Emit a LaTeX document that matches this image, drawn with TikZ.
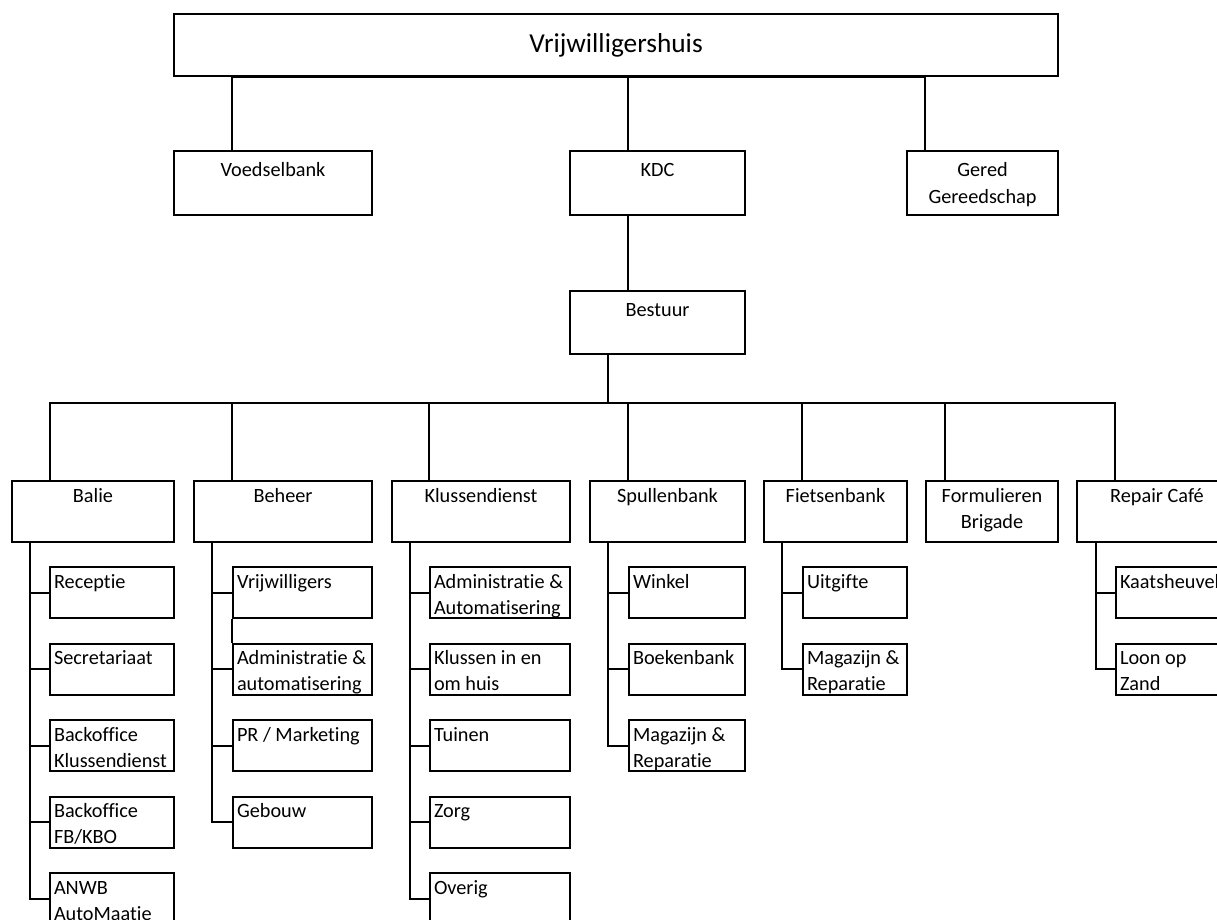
\documentclass[tikz,border=0pt]{standalone}
\usepackage{fontspec}
\setmainfont{Carlito}[Ligatures=NoCommon]

\newdimen\pxu \pxu=0.75pt
% text at the top of a box: width, height, first baseline, text
\newcommand{\ctrtext}[4]{\parbox[t][#2\pxu][t]{#1\pxu}{\centering\rule{0pt}{#3\pxu}#4}}
\newcommand{\lfttext}[2]{\parbox[t][51\pxu][t]{#1\pxu}{\raggedright\leftskip=4\pxu\rule{0pt}{21\pxu}#2}}

\tikzset{
    unit/.style={draw, line width=1.5pt, inner sep=0pt, anchor=north west},
    link/.style={line width=1.5pt},
}

\begin{document}
\begin{tikzpicture}[x=0.75pt, y=-0.75pt, font=\fontsize{15.2pt}{19.8pt}\selectfont]
    \useasboundingbox (0,0) rectangle (1217,920);

    \node[unit, minimum width=884\pxu, minimum height=62\pxu,
          font=\fontsize{20.5pt}{24pt}\selectfont] (vh) at (173,13) {Vrijwilligershuis};

        \node[unit] (vb)    at (173,150) {\ctrtext{198}{64}{25}{Voedselbank}};
        \node[unit] (kdc)   at (569,150) {\ctrtext{175}{64}{25}{KDC}};
        \node[unit] (gered) at (906,150) {\ctrtext{151}{64}{26}{Gered\\Gereedschap}};

        \draw[link] ([xshift=59\pxu]vb.north west)    |- (vh.south);
        \draw[link] ([xshift=59\pxu]kdc.north west)   |- (vh.south);
        \draw[link] ([xshift=19\pxu]gered.north west) |- (vh.south);

        \node[unit] (bestuur) at (569,290) {\ctrtext{175}{63}{25}{Bestuur}};
        \draw[link] ([xshift=59\pxu]kdc.south west) -- ([xshift=59\pxu]bestuur.north west);

    % afdelingen
    \coordinate (bus) at (608,403);
    \draw[link] ([xshift=39\pxu]bestuur.south west) -- (bus);

        \node[unit] (balie)  at (11,480)   {\ctrtext{162}{61}{21}{Balie}};
        \node[unit] (beheer) at (193,480)  {\ctrtext{178}{61}{21}{Beheer}};
        \node[unit] (klus)   at (391,480)  {\ctrtext{178}{61}{21}{Klussendienst}};
        \node[unit] (spul)   at (589,480)  {\ctrtext{155}{61}{21}{Spullenbank}};
        \node[unit] (fiets)  at (763,480)  {\ctrtext{143}{61}{21}{Fietsenbank}};
        \node[unit] (form)   at (925,480)  {\ctrtext{132}{61}{21}{Formulieren\\Brigade}};
        \node[unit] (rep)    at (1076,480) {\ctrtext{160}{61}{21}{Repair Café}};

        \draw[link] ([xshift=39\pxu]balie.north west)  |- (bus);
        \draw[link] ([xshift=39\pxu]beheer.north west) |- (bus);
        \draw[link] ([xshift=38\pxu]klus.north west)   |- (bus);
        \draw[link] ([xshift=39\pxu]spul.north west)   |- (bus);
        \draw[link] ([xshift=39\pxu]fiets.north west)  |- (bus);
        \draw[link] ([xshift=20\pxu]form.north west)   |- (bus);
        \draw[link] ([xshift=39\pxu]rep.north west)    |- (bus);

    % balie
        \node[unit] (rec)  at (49,566)   {\lfttext{124}{Receptie}};
        \node[unit] (sec)  at (49,642.5) {\lfttext{124}{Secretariaat}};
        \node[unit] (bok)  at (49,719)   {\lfttext{124}{Backoffice\\Klussendienst}};
        \node[unit] (bof)  at (49,795.5) {\lfttext{124}{Backoffice\\FB/KBO}};
        \node[unit] (anwb) at (49,872)   {\lfttext{124}{ANWB\\AutoMaatie}};

        \draw[link] ([xshift=19\pxu]balie.south west) |- (rec.west);
        \draw[link] ([xshift=19\pxu]balie.south west) |- (sec.west);
        \draw[link] ([xshift=19\pxu]balie.south west) |- (bok.west);
        \draw[link] ([xshift=19\pxu]balie.south west) |- (bof.west);
        \draw[link] ([xshift=19\pxu]balie.south west) |- (anwb.west);

    % beheer
        \node[unit] (vrij) at (232,566)   {\lfttext{139}{Vrijwilligers}};
        \node[unit] (adm)  at (232,642.5) {\lfttext{139}{Administratie \&\\automatisering}};
        \node[unit] (pr)   at (232,719)   {\lfttext{139}{PR / Marketing}};
        \node[unit] (geb)  at (232,795.5) {\lfttext{139}{Gebouw}};

        \draw[link] ([xshift=19\pxu]beheer.south west) |- (vrij.west);
        \draw[link] ([xshift=19\pxu]beheer.south west) |- (adm.west);
        \draw[link] ([xshift=19\pxu]beheer.south west) |- (pr.west);
        \draw[link] ([xshift=19\pxu]beheer.south west) |- (geb.west);
        \draw[link] (vrij.south west) -- (adm.north west);

    % klussendienst
        \node[unit] (kadm)  at (429,566)   {\lfttext{140}{Administratie \&\\Automatisering}};
        \node[unit] (khuis) at (429,642.5) {\lfttext{140}{Klussen in en\\om huis}};
        \node[unit] (tuin)  at (429,719)   {\lfttext{140}{Tuinen}};
        \node[unit] (zorg)  at (429,795.5) {\lfttext{140}{Zorg}};
        \node[unit] (ov)    at (429,872)   {\lfttext{140}{Overig}};

        \draw[link] ([xshift=19\pxu]klus.south west) |- (kadm.west);
        \draw[link] ([xshift=19\pxu]klus.south west) |- (khuis.west);
        \draw[link] ([xshift=19\pxu]klus.south west) |- (tuin.west);
        \draw[link] ([xshift=19\pxu]klus.south west) |- (zorg.west);
        \draw[link] ([xshift=19\pxu]klus.south west) |- (ov.west);

    % spullenbank
        \node[unit] (win)  at (628,566)   {\lfttext{116}{Winkel}};
        \node[unit] (boek) at (628,642.5) {\lfttext{116}{Boekenbank}};
        \node[unit] (smag) at (628,719)   {\lfttext{116}{Magazijn \&\\Reparatie}};

        \draw[link] ([xshift=19\pxu]spul.south west) |- (win.west);
        \draw[link] ([xshift=19\pxu]spul.south west) |- (boek.west);
        \draw[link] ([xshift=19\pxu]spul.south west) |- (smag.west);

    % fietsenbank
        \node[unit] (uit)  at (802,566)   {\lfttext{104}{Uitgifte}};
        \node[unit] (fmag) at (802,642.5) {\lfttext{104}{Magazijn \&\\Reparatie}};

        \draw[link] ([xshift=19\pxu]fiets.south west) |- (uit.west);
        \draw[link] ([xshift=19\pxu]fiets.south west) |- (fmag.west);

    % repair cafe
        \node[unit] (kaats) at (1115,566)   {\lfttext{124}{Kaatsheuvel}};
        \node[unit] (loon)  at (1115,642.5) {\lfttext{124}{Loon op\\Zand}};

        \draw[link] ([xshift=20\pxu]rep.south west) |- (kaats.west);
        \draw[link] ([xshift=20\pxu]rep.south west) |- (loon.west);

\end{tikzpicture}
\end{document}
